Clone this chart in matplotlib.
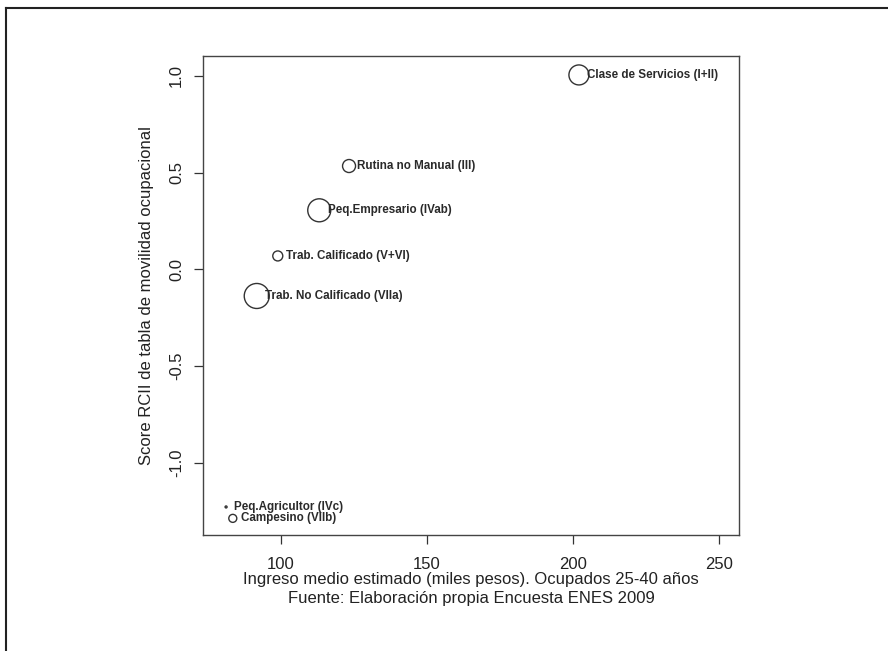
import matplotlib
matplotlib.use("Agg")
import matplotlib.pyplot as plt
from matplotlib.lines import Line2D

# Datos
clases = ["Clase de Servicios (I+II)", "Rutina no Manual (III)", "Peq.Empresario (IVab)",
          "Trab. Calificado (V+VI)", "Trab. No Calificado (VIIa)", "Campesino (VIIb)",
          "Peq.Agricultor (IVc)"]
ingreso = [202.0, 123.3, 113.1, 98.9, 91.7, 83.5, 81.2]
score = [1.005, 0.534, 0.305, 0.069, -0.138, -1.288, -1.229]
peso = [10.0, 6.5, 11.5, 5.0, 12.5, 4.0, 1.0]  # tamano relativo del circulo

x_ticks = [100, 150, 200, 250]
y_ticks = [-1.0, -0.5, 0.0, 0.5, 1.0]

plt.rcParams['font.family'] = ['Liberation Sans', 'DejaVu Sans']

fig = plt.figure(figsize=(8.88, 6.51), dpi=100)
ax = fig.add_axes([0.2286, 0.1782, 0.6036, 0.7358])

# circulos: radio en px -> diametro en puntos
sizes = [(2 * r * 0.72) ** 2 for r in peso]
ax.scatter(ingreso, score, s=sizes, facecolors='none', edgecolors='#333333', linewidths=1.0)

for name, x, y in zip(clases, ingreso, score):
    ax.annotate(name, (x, y), xytext=(6.0, 0), textcoords='offset points',
                ha='left', va='center', fontsize=8.4, fontweight='bold', color='#2a2a2a')

ax.set_xlim(73.3, 256.8)
ax.set_ylim(-1.374, 1.103)
ax.set_xticks(x_ticks)
ax.set_yticks(y_ticks)
ax.set_xticklabels([str(t) for t in x_ticks])
ax.set_yticklabels([f"{t:.1f}" for t in y_ticks], rotation=90, va='center')
ax.tick_params(direction='out', length=6.5, width=0.9, colors='#333333',
               labelsize=12, labelcolor='#222222')
ax.tick_params(axis='x', pad=9)
ax.tick_params(axis='y', pad=7)
for sp in ax.spines.values():
    sp.set_color('#444444')
    sp.set_linewidth(1.0)

ax.set_xlabel("Ingreso medio estimado (miles pesos). Ocupados 25-40 años\n"
              "Fuente: Elaboración propia Encuesta ENES 2009",
              fontsize=12, color='#222222', labelpad=0, linespacing=1.4)
ax.set_ylabel("Score RCII de tabla de movilidad ocupacional", fontsize=12,
              color='#222222', labelpad=11)

# marco exterior (recortado: solo arriba e izquierda)
fig.add_artist(Line2D([6 / 888, 1.0], [1 - 8 / 651, 1 - 8 / 651], color='#222222',
                      lw=1.5, transform=fig.transFigure))
fig.add_artist(Line2D([6 / 888, 6 / 888], [0.0, 1 - 8 / 651], color='#222222',
                      lw=1.5, transform=fig.transFigure))

fig.savefig("out.png", dpi=100)
